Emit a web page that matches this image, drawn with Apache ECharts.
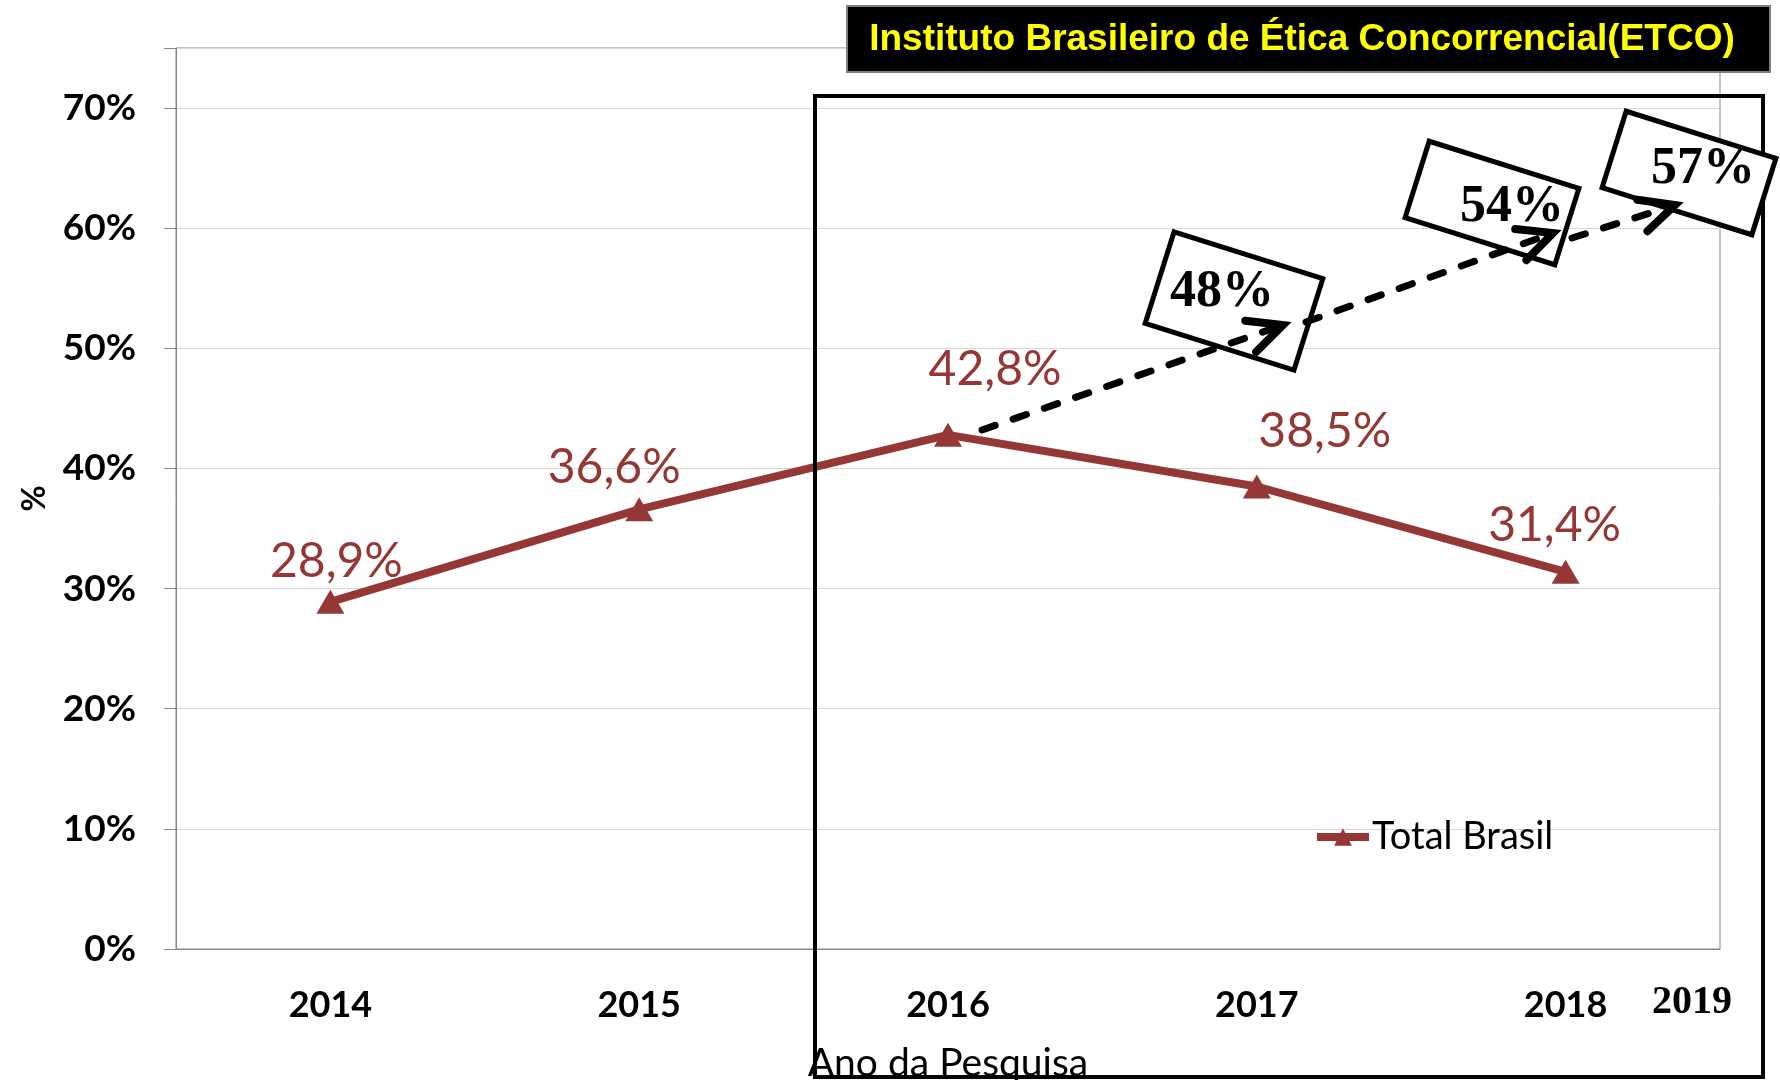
<!DOCTYPE html>
<html>
<head>
<meta charset="utf-8">
<script src="https://cdn.jsdelivr.net/npm/echarts@6/dist/echarts.min.js"></script>
<style>
html, body { margin: 0; padding: 0; background: #fff; }
#chart { width: 1780px; height: 1080px; }
</style>
</head>
<body>
<div id="chart"></div>
<script>
// dados do gráfico
var years = ['2014', '2015', '2016', '2017', '2018'];
var totalBrasil = [28.9, 36.6, 42.8, 38.5, 31.4];
var projection = ['48%', '54%', '57%'];
var extraYear = '2019';

// deslocamento dos rótulos (px)
var labelOffsets = [[6, -40], [-25, -42], [47, -65], [68, -55], [-11, -46]];

var red = '#953735';
var sans = 'Lato, "Open Sans", sans-serif';
var serif = '"Liberation Serif", "DejaVu Serif", serif';

// ==========================
// anotações (caixas e setas)
// ==========================
var boxes = [
	{ c: [1234, 301], w: 156, h: 96, t: [1222, 293] },
	{ c: [1492, 203], w: 157, h: 80, t: [1512, 208] },
	{ c: [1689, 173], w: 157, h: 80, t: [1703, 170] }
];
var shafts = [
	[[982, 430], [1283, 325]],
	[[1306, 322], [1553, 233]],
	[[1572, 238], [1675, 205]]
];

function arrowHead(p0, p1) {
	var a = Math.atan2(p1[1] - p0[1], p1[0] - p0[0]) + Math.PI;
	var len = 38, s = 0.45;
	return [
		[p1[0] + len * Math.cos(a - s), p1[1] + len * Math.sin(a - s)],
		[p1[0], p1[1]],
		[p1[0] + len * Math.cos(a + s), p1[1] + len * Math.sin(a + s)]
	];
}

var graphics = [];
// moldura grande
graphics.push({
	type: 'rect', z: 100,
	shape: { x: 815, y: 96, width: 948, height: 981 },
	style: { fill: 'none', stroke: '#000', lineWidth: 4 }
});
boxes.forEach(function(b, i) {
	graphics.push({
		type: 'rect', z: 101,
		x: b.c[0], y: b.c[1], rotation: -17.5 * Math.PI / 180,
		shape: { x: -b.w / 2, y: -b.h / 2, width: b.w, height: b.h },
		style: { fill: '#fff', stroke: '#000', lineWidth: 5 }
	});
	graphics.push({
		type: 'text', z: 102, x: b.t[0], y: b.t[1],
		style: {
			text: projection[i], fill: '#000', font: 'bold 52px ' + serif,
			align: 'center', verticalAlign: 'middle'
		}
	});
});
shafts.forEach(function(s) {
	// recua um pouco a haste para a ponta ficar limpa
	var dx = s[1][0] - s[0][0], dy = s[1][1] - s[0][1];
	var L = Math.sqrt(dx * dx + dy * dy), k = (L - 10) / L;
	graphics.push({
		type: 'line', z: 103,
		shape: { x1: s[0][0], y1: s[0][1], x2: s[0][0] + dx * k, y2: s[0][1] + dy * k },
		style: { stroke: '#000', lineWidth: 7, lineDash: [14, 19], lineCap: 'round' }
	});
	graphics.push({
		type: 'polyline', z: 103,
		shape: { points: arrowHead(s[0], s[1]) },
		style: { stroke: '#000', lineWidth: 8, fill: 'none', lineJoin: 'miter', lineCap: 'round' }
	});
});
// título
graphics.push({
	type: 'rect', z: 104,
	shape: { x: 847, y: 6, width: 923, height: 66 },
	style: { fill: '#000', stroke: '#7f7f7f', lineWidth: 2 }
});
graphics.push({
	type: 'text', z: 105, x: 1302, y: 40,
	style: {
		text: 'Instituto Brasileiro de Ética Concorrencial(ETCO)',
		fill: '#ffff00', font: 'bold 37px "Liberation Sans", Arial, sans-serif',
		align: 'center', verticalAlign: 'middle'
	}
});
graphics.push({
	type: 'text', z: 105, x: 1692, y: 1003,
	style: {
		text: extraYear, fill: '#000', font: 'bold 40px ' + serif,
		align: 'center', verticalAlign: 'middle'
	}
});

var chart = echarts.init(document.getElementById('chart'));
var option = {
	animation: false,
	backgroundColor: '#fff',
	grid: {
		left: 176, right: 60, top: 48, bottom: 131,
		outerBoundsMode: 'none',
		show: true, borderColor: '#868686', borderWidth: 1
	},
	legend: {
		data: ['Total Brasil'],
		left: 1308, top: 813,
		itemWidth: 52, itemHeight: 22, itemGap: 4,
		lineStyle: { width: 8 },
		textStyle: { fontFamily: sans, fontSize: 38, color: '#000', padding: [0, 0, 0, -2] }
	},
	xAxis: {
		type: 'category',
		data: years,
		name: 'Ano da Pesquisa',
		nameLocation: 'middle',
		nameGap: 95,
		nameTextStyle: { fontFamily: sans, fontSize: 39, color: '#000' },
		axisLine: { lineStyle: { color: '#868686', width: 1 } },
		axisTick: { show: false },
		axisLabel: { margin: 38, fontFamily: sans, fontSize: 36, fontWeight: 'bold', color: '#000' }
	},
	yAxis: {
		type: 'value',
		min: 0, max: 75, interval: 10,
		name: '%',
		nameLocation: 'middle',
		nameRotate: 90,
		nameGap: 125,
		nameTextStyle: { fontFamily: sans, fontSize: 32, fontWeight: 'bold', color: '#000' },
		axisLine: { show: true, lineStyle: { color: '#868686', width: 1 } },
		axisTick: { show: true, length: 12, lineStyle: { color: '#868686' } },
		axisLabel: {
			margin: 40, fontFamily: sans, fontSize: 37, fontWeight: 'bold', color: '#000',
			formatter: function(v) { return v > 70 ? '' : v + '%'; }
		},
		splitLine: { lineStyle: { color: '#d9d9d9', width: 1 } }
	},
	series: [{
		name: 'Total Brasil',
		type: 'line',
		data: totalBrasil.map(function(v, i) {
			return { value: v, label: { offset: labelOffsets[i] } };
		}),
		symbol: 'triangle',
		symbolSize: [28, 24],
		lineStyle: { color: red, width: 8 },
		itemStyle: { color: red },
		label: {
			show: true,
			position: 'inside',
			fontFamily: sans,
			fontSize: 48,
			color: red,
			formatter: function(p) { return p.value.toFixed(1).replace('.', ',') + '%'; }
		}
	}],
	graphic: graphics
};
chart.setOption(option);
</script>
</body>
</html>
